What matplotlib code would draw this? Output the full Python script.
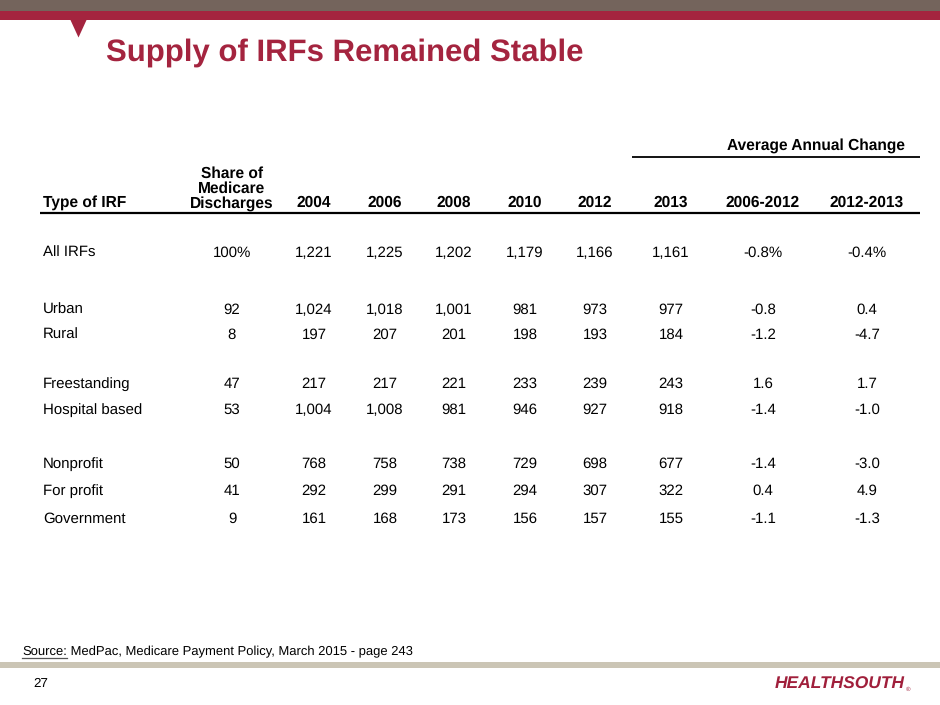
import matplotlib
matplotlib.use("Agg")
import matplotlib.pyplot as plt
from matplotlib.patches import Rectangle, Polygon

plt.rcParams["text.hinting"] = "no_hinting"

# ---------------- data ----------------
title = "Supply of IRFs Remained Stable"
row_labels = ["All IRFs", "Urban", "Rural", "Freestanding", "Hospital based",
              "Nonprofit", "For profit", "Government"]
share = [100, 92, 8, 47, 53, 50, 41, 9]
years = ["2004", "2006", "2008", "2010", "2012", "2013"]
y2004 = [1221, 1024, 197, 217, 1004, 768, 292, 161]
y2006 = [1225, 1018, 207, 217, 1008, 758, 299, 168]
y2008 = [1202, 1001, 201, 221, 981, 738, 291, 173]
y2010 = [1179, 981, 198, 233, 946, 729, 294, 156]
y2012 = [1166, 973, 193, 239, 927, 698, 307, 157]
y2013 = [1161, 977, 184, 243, 918, 677, 322, 155]
chg_0612 = [-0.8, -0.8, -1.2, 1.6, -1.4, -1.4, 0.4, -1.1]
chg_1213 = [-0.4, 0.4, -4.7, 1.7, -1.0, -3.0, 4.9, -1.3]
change_headers = ["2006-2012", "2012-2013"]
group_header = "Average Annual Change"
source_label = "Source:"
source_text = " MedPac, Medicare Payment Policy, March 2015 - page 243"
page_number = "27"
logo = "HEALTHSOUTH"

# ---------------- layout ----------------
W, H = 940, 705
GRAY = "#74645c"
RED = "#a4243f"
BEIGE = "#cbc5b5"
FONT = "Liberation Sans"

fig = plt.figure(figsize=(W / 100, H / 100), dpi=100)
ax = fig.add_axes([0, 0, 1, 1])
ax.set_xlim(0, W)
ax.set_ylim(H, 0)
ax.axis("off")

# top bands and triangle
ax.add_patch(Rectangle((0, 0), W, 11, color=GRAY, lw=0))
ax.add_patch(Rectangle((0, 11), W, 8.5, color=RED, lw=0))
ax.add_patch(Polygon([(70, 19), (87, 19), (78.5, 37.5)], closed=True, color=RED, lw=0))
# bottom band
ax.add_patch(Rectangle((0, 662), W, 5.5, color=BEIGE, lw=0))

ax.text(106, 61, title, fontsize=22.4, fontweight="bold", color=RED,
        family=FONT, va="baseline", ha="left")

# table
col_label_x = 43
col_share_x = 232
col_year_x = [314, 385, 454, 525, 595, 671]
col_chg_x = [763, 867]
row_y = [253, 310, 335, 384, 410, 464, 491, 519]
hdr_y = 203

hdr_kw = dict(fontsize=11.2, fontweight="bold", family=FONT, color="black", va="center")
body_kw = dict(fontsize=10.8, family=FONT, color="black", va="center")

ax.text(col_label_x, hdr_y, "Type of IRF", ha="left", **hdr_kw)
ax.text(col_share_x, hdr_y + 5, "Share of\nMedicare\nDischarges", ha="center",
        va="baseline", fontsize=11.2, fontweight="bold", family=FONT,
        linespacing=1.03)
for x, yr in zip(col_year_x, years):
    ax.text(x, hdr_y, yr, ha="center", **hdr_kw)
for x, h in zip(col_chg_x, change_headers):
    ax.text(x, hdr_y, h, ha="center", **hdr_kw)
ax.text(905, 146, group_header, ha="right", **hdr_kw)

ax.plot([632, 920], [157, 157], color="black", lw=1.3, solid_capstyle="butt")
ax.plot([40, 920], [213, 213], color="black", lw=1.6, solid_capstyle="butt")

year_cols = [y2004, y2006, y2008, y2010, y2012, y2013]
for i, lab in enumerate(row_labels):
    y = row_y[i]
    ax.text(col_label_x, y, lab, ha="left", **body_kw)
    s = f"{share[i]}%" if i == 0 else f"{share[i]}"
    ax.text(col_share_x, y, s, ha="center", **body_kw)
    for x, col in zip(col_year_x, year_cols):
        ax.text(x, y, f"{col[i]:,}", ha="center", **body_kw)
    for x, col in zip(col_chg_x, [chg_0612, chg_1213]):
        s = f"{col[i]:.1f}%" if i == 0 else f"{col[i]:.1f}"
        ax.text(x, y, s, ha="center", **body_kw)

# source line with underlined label
src_kw = dict(fontsize=9.4, family=FONT, color="black", va="baseline", ha="left")
t_lab = ax.text(22, 655, source_label, **src_kw)
fig.canvas.draw()
bb = t_lab.get_window_extent(renderer=fig.canvas.get_renderer())
x_end = bb.x1  # pixel coords == data x since axes covers figure
ax.text(x_end, 655, source_text, **src_kw)
ax.plot([22, x_end], [658, 658], color="#555555", lw=0.9)

ax.text(33, 684, page_number, fontsize=9.6, family=FONT, color="black",
        va="center", ha="left")

ax.text(905, 684, logo, fontsize=12.5, fontweight="heavy", fontstyle="italic",
        family=FONT, color="#a01f3b", va="center", ha="right")
ax.text(906, 689, "®", fontsize=4.5, family=FONT, color="#a01f3b",
        va="center", ha="left")

fig.savefig("out.png", dpi=100)
